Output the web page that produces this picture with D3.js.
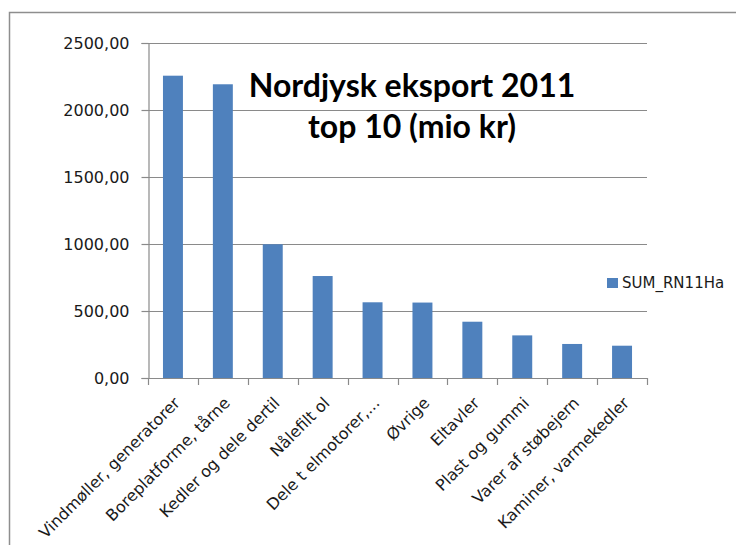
<!DOCTYPE html>
<html lang="da">
<head>
<meta charset="utf-8">
<title>Nordjysk eksport 2011</title>
<script src="https://cdn.jsdelivr.net/npm/d3@7"></script>
<style>
    body { margin: 0; background: #fff; }
    svg { display: block; background: #fff; }
    .tick-label { font-family: "DejaVu Sans", sans-serif; font-size: 16px; fill: #1a1a1a; }
    .legend-label { font-family: "DejaVu Sans", sans-serif; font-size: 15px; fill: #1a1a1a; }
    .title { font-family: Lato, "Open Sans", sans-serif; font-weight: bold; font-size: 32px; fill: #000; }
</style>
</head>
<body>
<div id="chart"></div>
<script>
"use strict";
// chart data
var categories = ["Vindmøller, generatorer", "Boreplatforme, tårne", "Kedler og dele dertil",
    "Nålefilt ol", "Dele t elmotorer,...", "Øvrige", "Eltavler", "Plast og gummi",
    "Varer af støbejern", "Kaminer, varmekedler"];
var values = [2256, 2192, 998, 761, 565, 563, 420, 318, 254, 241];
var yTicks = [0, 500, 1000, 1500, 2000, 2500];
var seriesName = "SUM_RN11Ha";
var titleLines = ["Nordjysk eksport 2011", "top 10 (mio kr)"];

var svg_width = 736, svg_height = 545;
var plotLeft = 148, plotRight = 647, plotTop = 43, plotBottom = 378;

var svg = d3.select("#chart").append("svg")
    .attr("width", svg_width)
    .attr("height", svg_height);

// outer chart frame (runs off the right and bottom edge)
svg.append("rect")
    .attr("x", 9.5).attr("y", 12.5)
    .attr("width", 760).attr("height", 560)
    .attr("fill", "none").attr("stroke", "#8e8e8e").attr("stroke-width", 1.5);

var y = d3.scaleLinear().domain([0, 2500]).range([plotBottom, plotTop]);
var x = d3.scaleBand().domain(categories).range([plotLeft, plotRight])
    .paddingInner(0.6).paddingOuter(0.3);

var locale = d3.formatLocale({decimal: ",", thousands: "", grouping: [3], currency: ["", ""]});
var fmt = locale.format(".2f");

// gridlines
svg.append("g").selectAll("line")
    .data(yTicks.filter(function(d) { return d > 0; }))
    .enter().append("line")
    .attr("x1", plotLeft).attr("x2", plotRight)
    .attr("y1", function(d) { return Math.round(y(d)) + 0.5; })
    .attr("y2", function(d) { return Math.round(y(d)) + 0.5; })
    .attr("stroke", "#8a8a8a").attr("stroke-width", 1.2);

// y axis
var yAxis = d3.axisLeft(y).tickValues(yTicks).tickFormat(fmt).tickSize(7).tickPadding(12);
var gy = svg.append("g").attr("transform", "translate(" + (plotLeft + 0.5) + ",0)").call(yAxis);
gy.attr("font-size", null).attr("font-family", null);
gy.select(".domain").attr("stroke", "#8a8a8a").attr("stroke-width", 1.2);
gy.selectAll(".tick line").attr("stroke", "#8a8a8a").attr("stroke-width", 1.2);
gy.selectAll(".tick text").attr("class", "tick-label");

// bars
svg.append("g").selectAll("rect")
    .data(values)
    .enter().append("rect")
    .attr("x", function(d, i) { return x(categories[i]); })
    .attr("y", function(d) { return y(d); })
    .attr("width", x.bandwidth())
    .attr("height", function(d) { return y(0) - y(d); })
    .attr("fill", "#4f81bd");

// x axis line and category separators
svg.append("line")
    .attr("x1", plotLeft).attr("x2", plotRight)
    .attr("y1", plotBottom + 0.5).attr("y2", plotBottom + 0.5)
    .attr("stroke", "#8a8a8a").attr("stroke-width", 1.2);
svg.append("g").selectAll("line")
    .data(d3.range(categories.length + 1))
    .enter().append("line")
    .attr("x1", function(i) { return Math.round(plotLeft + i * x.step()) + 0.5; })
    .attr("x2", function(i) { return Math.round(plotLeft + i * x.step()) + 0.5; })
    .attr("y1", plotBottom).attr("y2", plotBottom + 7)
    .attr("stroke", "#8a8a8a").attr("stroke-width", 1.2);

// rotated category labels
svg.append("g").selectAll("text")
    .data(categories)
    .enter().append("text")
    .attr("class", "tick-label")
    .attr("text-anchor", "end")
    .attr("transform", function(d) {
        return "translate(" + (x(d) + x.bandwidth() / 2 + 8) + "," + (plotBottom + 26) + ") rotate(-45)";
    })
    .text(function(d) { return d; });

// title
svg.append("text")
    .attr("class", "title")
    .attr("text-anchor", "middle")
    .selectAll("tspan")
    .data(titleLines)
    .enter().append("tspan")
    .attr("x", 412)
    .attr("y", function(d, i) { return 97 + i * 41; })
    .text(function(d) { return d; });

// legend
svg.append("rect")
    .attr("x", 607).attr("y", 278).attr("width", 11).attr("height", 10)
    .attr("fill", "#4f81bd");
svg.append("text")
    .attr("class", "legend-label")
    .attr("x", 622).attr("y", 288)
    .text(seriesName);
</script>
</body>
</html>
